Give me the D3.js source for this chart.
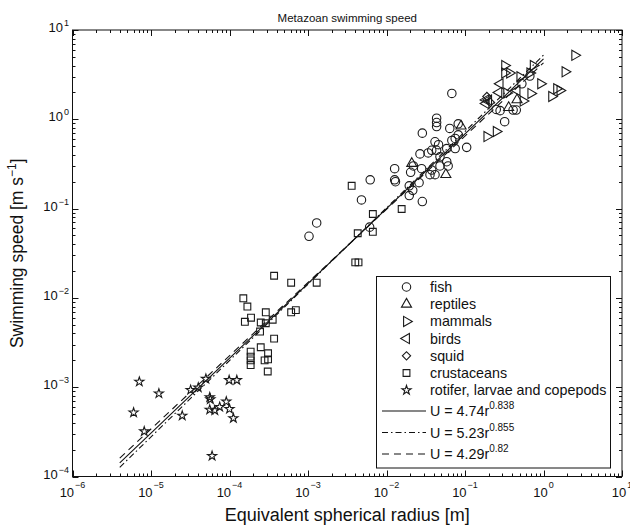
<!DOCTYPE html>
<html>
<head>
<meta charset="utf-8">
<script src="https://cdn.jsdelivr.net/npm/d3@7"></script>
<style>
  body { margin: 0; background: #fff; }
  text { font-family: "Liberation Sans", Arial, Helvetica, sans-serif; fill: #111; }
</style>
</head>
<body>
<script>

// data: [radius m, speed m/s]
var fish = [
  [1.03e-3, 4.9e-2], [1.29e-3, 6.9e-2], [4.8e-3, 0.125], [6.2e-3, 0.21], [6.1e-3, 6.2e-2],
  [1.27e-2, 0.28], [1.27e-2, 0.21], [1.3e-2, 0.20], [1.95e-2, 0.18], [2.16e-2, 0.16],
  [1.95e-2, 0.14], [2.6e-2, 0.195], [2.86e-2, 0.12], [2.03e-2, 0.255], [2.2e-2, 0.30],
  [2.8e-2, 0.28], [3.77e-2, 0.27], [3.58e-2, 0.24], [4.15e-2, 0.24], [5.85e-2, 0.335],
  [6.1e-2, 0.30], [4.8e-2, 0.30], [2.67e-2, 0.41], [3.4e-2, 0.42], [4.8e-2, 0.38],
  [3.77e-2, 0.45], [4.35e-2, 0.45], [5.85e-2, 0.47], [7.5e-2, 0.47], [0.105, 0.485],
  [4.15e-2, 0.56], [4.6e-2, 0.52], [6.8e-2, 0.58], [7.5e-2, 0.61], [8.2e-2, 0.67],
  [2.86e-2, 0.70], [6.4e-2, 0.79], [8.2e-2, 0.89], [4.35e-2, 0.83], [4.35e-2, 0.92],
  [4.35e-2, 1.03], [6.8e-2, 1.95], [0.32, 0.94], [0.41, 1.27], [0.45, 1.27],
  [0.25, 1.29], [0.28, 1.25], [0.53, 2.5], [0.67, 3.05]
];
var reptiles = [[2.1e-2, 0.32], [5.7e-2, 0.24], [8.9e-2, 0.84], [0.46, 1.65], [0.36, 1.35]];
var mammals = [
  [2.5, 5.2], [1.88, 3.4], [1.47, 2.2], [1.62, 2.1], [1.27, 1.8], [0.92, 2.5], [0.69, 1.95],
  [0.74, 4.0], [0.67, 3.3], [0.32, 4.0], [0.37, 3.3], [0.32, 3.3], [0.55, 1.6], [0.34, 1.97],
  [0.25, 0.73], [0.19, 0.64], [0.5, 3.0]
];
var birds = [[0.28, 2.5], [0.27, 2.0], [0.185, 1.65], [0.2, 1.65], [0.185, 1.5], [0.46, 2.1]];
var squid = [[0.19, 1.8], [0.21, 1.55]];
var crustaceans = [
  [1.5e-4, 9.9e-3], [1.69e-4, 8.0e-3], [1.88e-4, 6.0e-3], [1.57e-4, 5.4e-3], [2.9e-4, 6.9e-3],
  [2.5e-4, 5.3e-3], [2.9e-4, 5.2e-3], [3.55e-4, 5.7e-3], [2.45e-4, 4.2e-3], [3.7e-4, 3.5e-3],
  [3.7e-4, 1.77e-2], [6.1e-4, 1.48e-2], [6.1e-4, 6.9e-3], [7.0e-4, 7.3e-3], [1.29e-3, 1.48e-2],
  [2.5e-4, 2.8e-3], [1.86e-4, 2.5e-3], [1.86e-4, 2.2e-3], [1.86e-4, 2.0e-3], [1.86e-4, 1.77e-3],
  [2.8e-4, 2.0e-3], [3.1e-4, 2.4e-3], [3.1e-4, 2.05e-3], [3.07e-4, 1.5e-3],
  [3.6e-3, 0.18], [6.7e-3, 8.7e-2], [1.56e-2, 9.9e-2], [4.3e-3, 5.3e-2], [6.7e-3, 5.5e-2],
  [4.0e-3, 2.5e-2], [4.4e-3, 2.5e-2]
];
var rotifers = [
  [7.1e-6, 1.15e-3], [1.26e-5, 8.5e-4], [6.0e-6, 5.2e-4], [8.2e-6, 3.2e-4], [2.5e-5, 4.8e-4],
  [3.2e-5, 9.3e-4], [4.0e-5, 9.9e-4], [5.0e-5, 1.24e-3], [5.6e-5, 7.7e-4], [5.7e-5, 7.3e-4],
  [5.6e-5, 5.6e-4], [6.5e-5, 5.5e-4], [7.5e-5, 6.0e-4], [9.1e-5, 6.9e-4], [1.0e-4, 5.7e-4],
  [1.12e-4, 4.5e-4], [9.9e-5, 1.2e-3], [1.24e-4, 1.2e-3], [6.0e-5, 1.7e-4]
];

var groupNames = ["fish", "reptiles", "mammals", "birds", "squid", "crustaceans", "rotifer, larvae and copepods"];

// fitted power laws U = a r^b
var fitA = [4.74, 5.23, 4.29];
var fitB = [0.838, 0.855, 0.82];
var fitRange = [4e-6, 1];

var W = 630, H = 528;
var pLeft = 72.5, pRight = 622, pTop = 30, pBottom = 476.5;

var svg = d3.select("body").append("svg")
  .attr("width", W)
  .attr("height", H);

var x = d3.scaleLog().domain([1e-6, 10]).range([pLeft, pRight]);
var y = d3.scaleLog().domain([1e-4, 10]).range([pBottom, pTop]);

var groups = [
  { data: fish, type: d3.symbolCircle, size: 56, rot: 0 },
  { data: reptiles, type: d3.symbolTriangle, size: 44, rot: 0 },
  { data: mammals, type: d3.symbolTriangle, size: 44, rot: 90 },
  { data: birds, type: d3.symbolTriangle, size: 44, rot: -90 },
  { data: squid, type: d3.symbolSquare, size: 34, rot: 45 },
  { data: crustaceans, type: d3.symbolSquare, size: 46, rot: 0 },
  { data: rotifers, type: d3.symbolStar, size: 26, rot: 0 }
];

// ticks (inward, all four sides)
var xMajor = d3.range(-6, 2).map(function(e) { return Math.pow(10, e); });
var yMajor = d3.range(-4, 2).map(function(e) { return Math.pow(10, e); });
var xMinor = [], yMinor = [];
d3.range(-6, 1).forEach(function(e) {
  for (var k = 2; k < 10; k++) xMinor.push(k * Math.pow(10, e));
});
d3.range(-4, 1).forEach(function(e) {
  for (var k = 2; k < 10; k++) yMinor.push(k * Math.pow(10, e));
});

var tickG = svg.append("g").attr("stroke", "#111").attr("stroke-width", 1);
function xTicks(vals, len) {
  vals.forEach(function(v) {
    var px = Math.round(x(v)) + 0.5;
    tickG.append("line").attr("x1", px).attr("x2", px).attr("y1", pBottom).attr("y2", pBottom - len);
    tickG.append("line").attr("x1", px).attr("x2", px).attr("y1", pTop).attr("y2", pTop + len);
  });
}
function yTicks(vals, len) {
  vals.forEach(function(v) {
    var py = Math.round(y(v)) + 0.5;
    tickG.append("line").attr("y1", py).attr("y2", py).attr("x1", pLeft).attr("x2", pLeft + len);
    tickG.append("line").attr("y1", py).attr("y2", py).attr("x1", pRight).attr("x2", pRight - len);
  });
}
xTicks(xMajor, 6); xTicks(xMinor, 3);
yTicks(yMajor, 6); yTicks(yMinor, 3);

svg.append("rect")
  .attr("x", pLeft).attr("y", pTop)
  .attr("width", pRight - pLeft).attr("height", pBottom - pTop)
  .attr("fill", "none").attr("stroke", "#111").attr("stroke-width", 1);

// tick labels 10^n, centred as one piece
function expText(v) {
  return String(Math.round(Math.log10(v))).replace("-", "\u2212");
}
xMajor.forEach(function(v) {
  var t = svg.append("text").attr("x", x(v)).attr("y", 497).attr("text-anchor", "middle")
    .style("font-size", "13px");
  t.append("tspan").text("10");
  t.append("tspan").attr("dx", 1).attr("dy", -9).style("font-size", "9px").text(expText(v));
});
yMajor.forEach(function(v) {
  var t = svg.append("text").attr("x", 69).attr("y", y(v) + 2).attr("text-anchor", "end")
    .style("font-size", "13px");
  t.append("tspan").text("10");
  t.append("tspan").attr("dx", 1).attr("dy", -6).style("font-size", "9px").text(expText(v));
});

// fit lines
var dashes = [null, "6,3,1.5,3", "7,5"];
var line = d3.line().x(function(d) { return x(d[0]); }).y(function(d) { return y(d[1]); });
fitA.forEach(function(a, i) {
  var pts = fitRange.map(function(r) { return [r, a * Math.pow(r, fitB[i])]; });
  svg.append("path").attr("d", line(pts))
    .attr("fill", "none").attr("stroke", "#111").attr("stroke-width", 1.1)
    .attr("stroke-dasharray", dashes[i]);
});

// markers
groups.forEach(function(g) {
  var sym = d3.symbol().type(g.type).size(g.size);
  svg.append("g").selectAll("path")
    .data(g.data)
    .enter()
    .append("path")
    .attr("d", sym)
    .attr("transform", function(d) {
      return "translate(" + x(d[0]) + "," + y(d[1]) + ") rotate(" + g.rot + ")";
    })
    .attr("fill", "none")
    .attr("stroke", "#1a1a1a")
    .attr("stroke-width", 1.1);
});

// legend
var lg = svg.append("g");
lg.append("rect").attr("x", 376.5).attr("y", 276.5).attr("width", 234).attr("height", 191.5)
  .attr("fill", "#fff").attr("stroke", "#111").attr("stroke-width", 1);
groupNames.forEach(function(name, i) {
  var ry = 287 + i * 17.2;
  var g = groups[i];
  lg.append("path").attr("d", d3.symbol().type(g.type).size(g.size))
    .attr("transform", "translate(406.5," + ry + ") rotate(" + g.rot + ")")
    .attr("fill", "none").attr("stroke", "#1a1a1a").attr("stroke-width", 1.1);
  lg.append("text").attr("x", 430).attr("y", ry + 5).style("font-size", "14.3px").text(name);
});
fitA.forEach(function(a, i) {
  var ry = 411 + i * 21.5;
  lg.append("line").attr("x1", 382).attr("x2", 426).attr("y1", ry).attr("y2", ry)
    .attr("stroke", "#111").attr("stroke-width", 1.1).attr("stroke-dasharray", dashes[i]);
  var t = lg.append("text").attr("x", 430).attr("y", ry + 5).style("font-size", "14.3px");
  t.append("tspan").text("U = " + a.toFixed(2) + "r");
  t.append("tspan").attr("dy", -7).style("font-size", "10px").text(String(fitB[i]));
});

// titles
svg.append("text").attr("x", (pLeft + pRight) / 2).attr("y", 22).attr("text-anchor", "middle")
  .style("font-size", "11.5px").text("Metazoan swimming speed");
svg.append("text").attr("x", (pLeft + pRight) / 2).attr("y", 521).attr("text-anchor", "middle")
  .style("font-size", "18px").text("Equivalent spherical radius [m]");
var yl = svg.append("text")
  .attr("transform", "translate(23," + (pTop + pBottom) / 2 + ") rotate(-90)")
  .attr("text-anchor", "middle")
  .style("font-size", "17.5px");
yl.append("tspan").text("Swimming speed [m s");
yl.append("tspan").attr("dy", -7).style("font-size", "12px").text("\u22121");
yl.append("tspan").attr("dy", 7).text("]");

</script>
</body>
</html>
